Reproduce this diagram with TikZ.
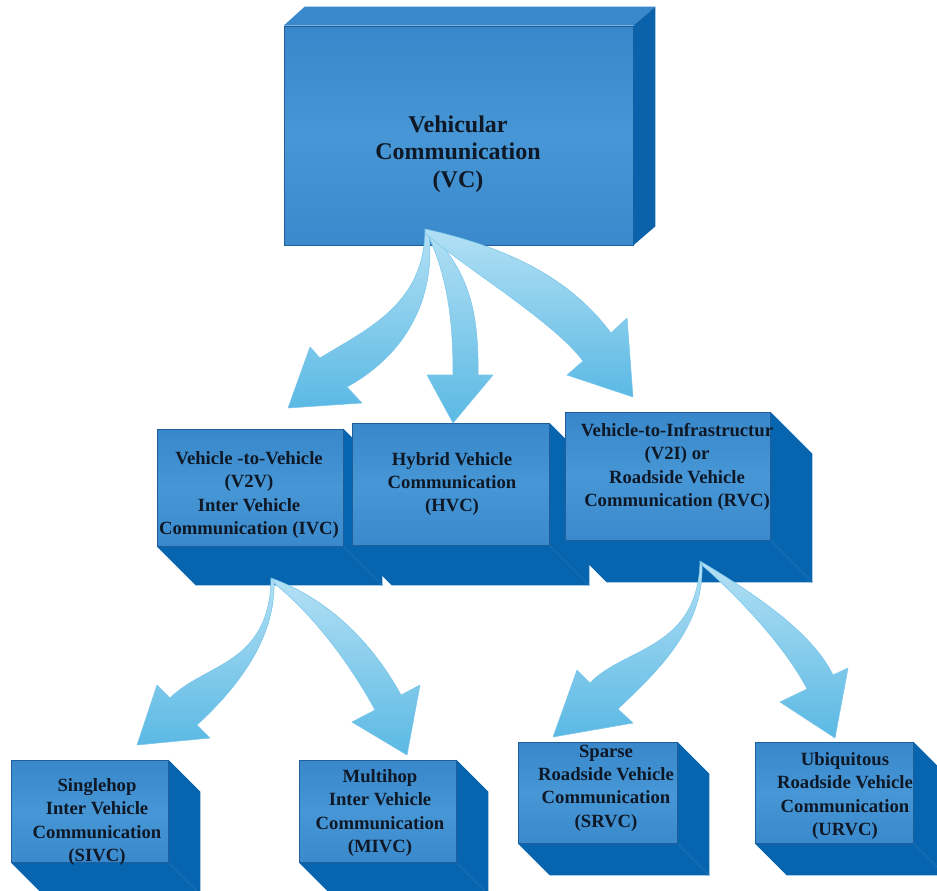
\documentclass[tikz,border=0pt]{standalone}
\usepackage{fontspec}
\setmainfont{Liberation Serif}
\usetikzlibrary{calc,backgrounds}
\definecolor{fronttop}{HTML}{3787CA}
\definecolor{frontmid}{HTML}{4797D6}
\definecolor{frontbot}{HTML}{3A89CC}
\definecolor{frontline}{HTML}{1F5E98}
\definecolor{topcol}{HTML}{3A88CC}
\definecolor{rightcol}{HTML}{0B62AA}
\definecolor{sidecol}{HTML}{0765AF}
\definecolor{sideedge}{HTML}{1C6FB4}
\definecolor{arrowtop}{HTML}{B3E0F4}
\definecolor{arrowbot}{HTML}{5BB9E4}
\definecolor{arrowedge}{HTML}{7AC6EA}
\definecolor{txt}{HTML}{0E1826}
\newcommand{\boxwithdepth}[6]{%
  \node[frontface, minimum width={#4*0.75pt}, minimum height={#5*0.75pt}] (#1) at (#2,#3) {};
  \begin{scope}[on background layer]
    \fill[sidecol] (#1.north east) -- ++(#6,#6) -- ($(#1.south east)+(#6,#6)$) -- ($(#1.south west)+(#6,#6)$) -- (#1.south west) -- (#1.south east) -- cycle;
    \draw[sideedge, line width=0.6pt] (#1.south east) -- ++(#6,#6);
  \end{scope}}
\begin{document}
\begin{tikzpicture}[x=0.75pt,y=-0.75pt,
  frontface/.style={draw=frontline, line width=0.5pt, top color=fronttop, bottom color=frontbot, middle color=frontmid, inner sep=0pt},
  lbl/.style={align=center, text=txt, font=\fontsize{14}{17.5}\selectfont\bfseries, inner sep=0pt},
  biglbl/.style={align=center, text=txt, font=\fontsize{18}{20.8}\selectfont\bfseries, inner sep=0pt},
  blockarrow/.style={top color=arrowtop, bottom color=arrowbot, draw=arrowedge, line width=0.4pt, line join=round}]
\useasboundingbox (0,0) rectangle (937,890);
\clip (0,0) rectangle (937,890);

% top box
\node[frontface, minimum width={349*0.75pt}, minimum height={219*0.75pt}] (vc) at (458.5,135.5) {};
\fill[topcol] (vc.north west) -- ++(21,-19) -- ($(vc.north east)+(22,-19)$) -- (vc.north east) -- cycle;
\fill[rightcol] (vc.north east) -- ++(22,-19) -- ($(vc.south east)+(22,-19)$) -- (vc.south east) -- cycle;
\node[biglbl] (vcl) at (458,154) {Vehicular\\Communication\\(VC)};

% middle boxes
\boxwithdepth{v2v}{250}{487.5}{186}{117}{39}
\boxwithdepth{hvc}{450.5}{484}{197}{122}{40}
\boxwithdepth{v2i}{667.5}{476}{205}{128}{42}
\node[lbl] (v2vl) at (249,495) {Vehicle -to-Vehicle\\(V2V)\\Inter Vehicle\\Communication (IVC)};
\node[lbl] (hvcl) at (452,484) {Hybrid Vehicle\\Communication\\(HVC)};
\node[lbl] (v2il) at (677,467) {Vehicle-to-Infrastructur\\(V2I) or\\Roadside Vehicle\\Communication (RVC)};

% bottom boxes
\boxwithdepth{sivc}{89.5}{811}{157}{102}{32}
\boxwithdepth{mivc}{377.5}{811}{157}{102}{32}
\boxwithdepth{srvc}{597.5}{792.5}{159}{101}{32}
\boxwithdepth{urvc}{834}{792.5}{158}{101}{32}
\node[lbl] (sivcl) at (97,822) {Singlehop\\Inter Vehicle\\Communication\\(SIVC)};
\node[lbl] (mivcl) at (380,813) {Multihop\\Inter Vehicle\\Communication\\(MIVC)};
\node[lbl] (srvcl) at (606,788) {Sparse\\Roadside Vehicle\\Communication\\(SRVC)};
\node[lbl] (urvcl) at (845,796) {Ubiquitous\\Roadside Vehicle\\Communication\\(URVC)};

% arrow sources
\coordinate (vcsrc) at (425,229);
\coordinate (v2vsrc) at (271,578);
\coordinate (v2isrc) at (700,561);

% VC -> V2V
\draw[blockarrow] (vcsrc) .. controls (425,305) and (365,330) .. (320,358) -- (310,347) -- (288,408) -- (362,403) -- (347,387) .. controls (405,355) and (436,300) .. (429,232) -- cycle;
% VC -> HVC
\draw[blockarrow] (vcsrc) .. controls (450,278) and (453,330) .. (453,375) -- (427,375) -- (453,423) -- (493,375) -- (478,375) .. controls (479,315) and (470,270) .. (428,231) -- cycle;
% VC -> V2I
\draw[blockarrow] (vcsrc) .. controls (520,250) and (575,285) .. (611,333) -- (627,318) -- (633,397) -- (567,375) -- (583,361) .. controls (553,321) and (465,268) .. (426,234) -- cycle;
% V2V -> SIVC
\draw[blockarrow] (v2vsrc) .. controls (270,665) and (205,663) .. (170,698) -- (157,685) -- (137,745) -- (210,738) -- (197,725) .. controls (235,690) and (276,640) .. (274,581) -- cycle;
% V2V -> MIVC
\draw[blockarrow] (v2vsrc) .. controls (335,601) and (377,651) .. (401,695) -- (420,685) -- (407,755) -- (352,722) -- (375,710) .. controls (353,669) and (316,617) .. (275,584) -- cycle;
% V2I -> SRVC
\draw[blockarrow] (v2isrc) .. controls (698,650) and (624,647) .. (590,683) -- (577,670) -- (553,737) -- (633,723) -- (618,709) .. controls (652,676) and (704,630) .. (702,566) -- cycle;
% V2I -> URVC
\draw[blockarrow] (v2isrc) .. controls (760,597) and (813,634) .. (833,675) -- (848,668) -- (835,738) -- (780,702) -- (807,689) .. controls (787,650) and (744,602) .. (703,566) -- cycle;
\end{tikzpicture}
\end{document}
